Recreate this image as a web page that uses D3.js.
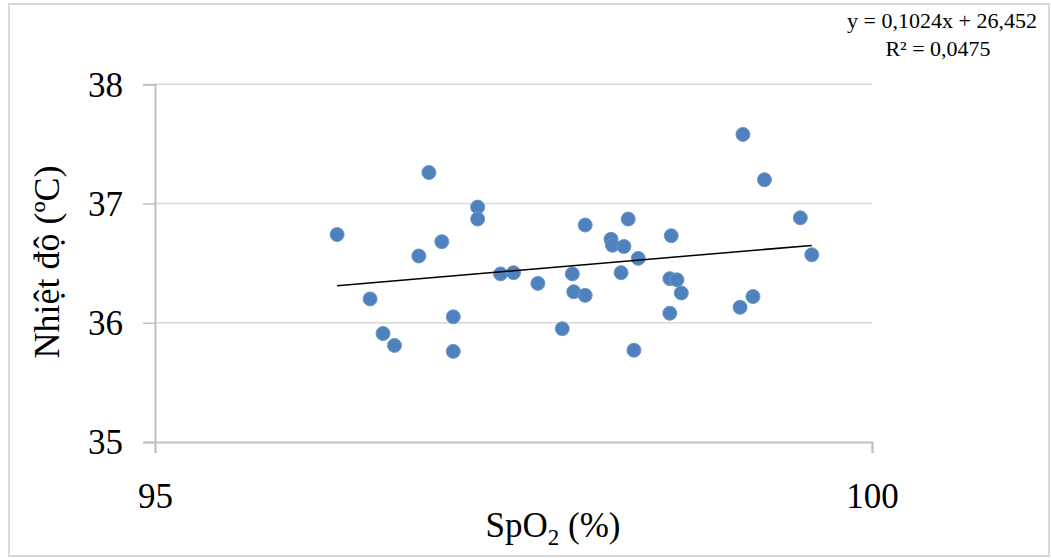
<!DOCTYPE html>
<html>
<head>
<meta charset="utf-8">
<script src="https://cdn.jsdelivr.net/npm/d3@7"></script>
<style>
  body { margin: 0; background: #fff; }
  text { font-family: "Liberation Serif", "Times New Roman", serif; fill: #000; }
</style>
</head>
<body>
<div class="root"></div>
<script>
// SpO2 (%) and body temperature (C)
var spo2 = [96.27, 96.91, 97.25, 97.25, 97.00, 96.84, 96.50, 96.59, 96.67, 97.08,
            97.08, 97.41, 97.50, 97.67, 98.00, 98.30, 98.18, 98.19, 98.27, 98.37,
            97.91, 98.25, 97.92, 98.00, 97.84, 98.34, 99.10, 99.25, 99.50, 99.58,
            98.60, 98.59, 98.64, 98.67, 98.59, 99.08, 99.17];
var temp = [36.74, 37.26, 36.97, 36.87, 36.68, 36.56, 36.20, 35.91, 35.81, 36.05,
            35.76, 36.41, 36.42, 36.33, 36.82, 36.87, 36.70, 36.65, 36.64, 36.54,
            36.41, 36.42, 36.26, 36.23, 35.95, 35.77, 37.58, 37.20, 36.88, 36.57,
            36.73, 36.37, 36.36, 36.25, 36.08, 36.13, 36.22];
var xTicks = [95, 100];
var yTicks = [35, 36, 37, 38];
var slope = 0.1024, intercept = 26.452;
var eqLabel = 'y = 0,1024x + 26,452';
var r2Label = 'R² = 0,0475';

function drawChart() {
  var w = 1051, h = 558;

  var svg = d3.select('.root').append('svg')
    .attr('width', w)
    .attr('height', h);

  // outer frame
  svg.append('rect')
    .attr('x', 9).attr('y', 4)
    .attr('width', 1040).attr('height', 552)
    .attr('fill', 'none')
    .attr('stroke', '#d9d9d9')
    .attr('stroke-width', 2);

  var x = d3.scaleLinear().domain([95, 100]).range([155, 872]);
  var y = d3.scaleLinear().domain([35, 38]).range([442, 84.3]);

  // horizontal gridlines
  svg.append('g')
    .selectAll('line')
    .data(yTicks.filter(function(d) { return d > 35; }))
    .enter().append('line')
      .attr('x1', x(95)).attr('x2', x(100))
      .attr('y1', function(d) { return y(d); })
      .attr('y2', function(d) { return y(d); })
      .attr('stroke', '#d9d9d9')
      .attr('stroke-width', 1.5);

  // y axis
  var yAxis = svg.append('g')
    .attr('transform', 'translate(' + x(95) + ',0)')
    .call(d3.axisLeft(y).tickValues(yTicks).tickFormat(d3.format('d'))
      .tickSize(12).tickPadding(20));
  yAxis.select('.domain').attr('stroke', '#bfbfbf').attr('stroke-width', 2);
  yAxis.selectAll('.tick line').attr('stroke', '#bfbfbf').attr('stroke-width', 1.5);
  yAxis.selectAll('.tick text')
    .attr('font-size', 35)
    .attr('dy', '0.34em');

  // x axis
  var xAxis = svg.append('g')
    .attr('transform', 'translate(0,' + y(35) + ')')
    .call(d3.axisBottom(x).tickValues(xTicks).tickFormat(d3.format('d'))
      .tickSize(11).tickPadding(30));
  xAxis.select('.domain').attr('stroke', '#bfbfbf').attr('stroke-width', 2);
  xAxis.selectAll('.tick line').attr('stroke', '#bfbfbf').attr('stroke-width', 1.5);
  xAxis.selectAll('.tick text')
    .attr('font-size', 35);

  // points
  var pts = spo2.map(function(v, i) { return {x: v, y: temp[i]}; });
  svg.append('g')
    .selectAll('circle')
    .data(pts)
    .enter().append('circle')
      .attr('cx', function(d) { return x(d.x); })
      .attr('cy', function(d) { return y(d.y); })
      .attr('r', 7)
      .attr('fill', '#4f81bd')
      .attr('stroke', '#6d97cb')
      .attr('stroke-width', 1);

  // linear trendline across the data range
  var xr = d3.extent(spo2);
  svg.append('line')
    .attr('x1', x(xr[0])).attr('y1', y(slope * xr[0] + intercept))
    .attr('x2', x(xr[1])).attr('y2', y(slope * xr[1] + intercept))
    .attr('stroke', '#000')
    .attr('stroke-width', 1.5);

  // equation
  svg.append('text')
    .attr('x', 942).attr('y', 28)
    .attr('text-anchor', 'middle')
    .attr('font-size', 22)
    .text(eqLabel);
  svg.append('text')
    .attr('x', 938).attr('y', 56)
    .attr('text-anchor', 'middle')
    .attr('font-size', 22)
    .text(r2Label);

  // axis titles
  svg.append('text')
    .attr('transform', 'translate(59,262) rotate(-90)')
    .attr('text-anchor', 'middle')
    .attr('font-size', 36)
    .text('Nhiệt độ (ºC)');

  var xt = svg.append('text')
    .attr('x', 553).attr('y', 537)
    .attr('text-anchor', 'middle')
    .attr('font-size', 35);
  xt.append('tspan').text('SpO');
  xt.append('tspan').attr('font-size', 23).attr('dy', 8).text('2');
  xt.append('tspan').attr('dy', -8).text(' (%)');
}

window.onload = function() {
  drawChart();
}
</script>
</body>
</html>
